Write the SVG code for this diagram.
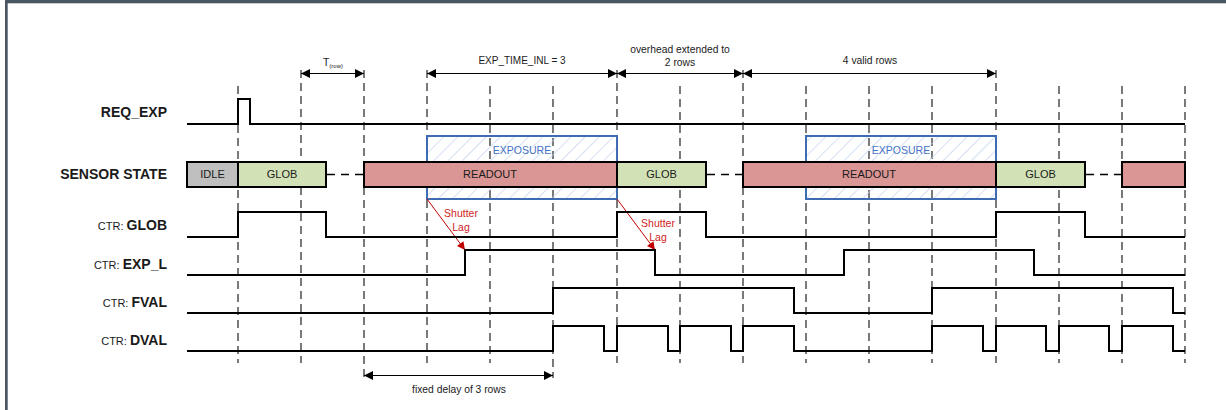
<svg xmlns="http://www.w3.org/2000/svg" width="1226" height="410" viewBox="0 0 1226 410">
<style>
text{font-family:"Liberation Sans",Arial,sans-serif;fill:#1a1a1a}
.lbl{font-size:14px;font-weight:bold;text-anchor:end}
.ctr{font-size:11px;font-weight:normal}
.bt{font-size:11px;text-anchor:middle}
.ann{font-size:10.3px;text-anchor:middle}
.exp{font-size:10.5px;text-anchor:middle;fill:#4472c4}
.lag{font-size:10.5px;text-anchor:middle;fill:#d01c1c}
.grid{stroke:#222;stroke-width:1.2;stroke-dasharray:8 5;fill:none}
.sig{stroke:#000;stroke-width:2;fill:none;stroke-linejoin:miter}
.bar{stroke:#000;stroke-width:2}
.expbox{stroke:#3d6cb3;stroke-width:2;fill:url(#hatch)}
.dim{stroke:#000;stroke-width:1;fill:none;marker-start:url(#ah);marker-end:url(#ah)}
.dash{stroke:#000;stroke-width:1.3;stroke-dasharray:8 6}
.lagarrow{stroke:#c00000;stroke-width:1;fill:none;marker-end:url(#ahr)}
</style>
<defs>
<pattern id="hatch" patternUnits="userSpaceOnUse" width="10" height="10" patternTransform="rotate(45)">
<line x1="0" y1="0" x2="0" y2="10" stroke="#c2d3eb" stroke-width="1.4"/>
</pattern>
<marker id="ah" viewBox="0 0 10 10" refX="10" refY="5" markerWidth="10" markerHeight="9" markerUnits="userSpaceOnUse" orient="auto-start-reverse">
<path d="M0,0 L10,5 L0,10 z" fill="#000"/>
</marker>
<marker id="ahr" viewBox="0 0 10 10" refX="10" refY="5" markerWidth="9" markerHeight="8" markerUnits="userSpaceOnUse" orient="auto">
<path d="M0,0 L10,5 L0,10 z" fill="#c00000"/>
</marker>
</defs>
<rect x="0" y="0" width="1226" height="410" fill="#fff"/>
<rect x="5" y="0" width="1221" height="3.3" fill="#4a5763"/>
<rect x="5" y="0" width="2.7" height="410" fill="#4a5763"/>

<g id="grid">
<line class="grid" x1="238" y1="86" x2="238" y2="363"/>
<line class="grid" x1="301" y1="70" x2="301" y2="363"/>
<line class="grid" x1="364" y1="70" x2="364" y2="378"/>
<line class="grid" x1="427" y1="70" x2="427" y2="363"/>
<line class="grid" x1="490" y1="86" x2="490" y2="363"/>
<line class="grid" x1="553" y1="86" x2="553" y2="378"/>
<line class="grid" x1="617" y1="70" x2="617" y2="363"/>
<line class="grid" x1="680" y1="86" x2="680" y2="363"/>
<line class="grid" x1="743" y1="70" x2="743" y2="363"/>
<line class="grid" x1="806" y1="86" x2="806" y2="363"/>
<line class="grid" x1="869" y1="86" x2="869" y2="363"/>
<line class="grid" x1="932" y1="86" x2="932" y2="363"/>
<line class="grid" x1="996" y1="70" x2="996" y2="363"/>
<line class="grid" x1="1059" y1="86" x2="1059" y2="363"/>
<line class="grid" x1="1122" y1="86" x2="1122" y2="363"/>
<line class="grid" x1="1185" y1="86" x2="1185" y2="363"/>
</g>

<g id="exposure1">
<rect class="expbox" x="427" y="136" width="190" height="63"/>
<text class="exp" x="522" y="154">EXPOSURE</text>
</g>
<g id="exposure2">
<rect class="expbox" x="806" y="136" width="190" height="63"/>
<text class="exp" x="901" y="154">EXPOSURE</text>
</g>

<g id="labels">
<text class="lbl" x="167" y="116.5">REQ_EXP</text>
<text class="lbl" x="167" y="179">SENSOR STATE</text>
<text class="lbl" x="167" y="230"><tspan class="ctr">CTR: </tspan>GLOB</text>
<text class="lbl" x="167" y="268.5"><tspan class="ctr">CTR: </tspan>EXP_L</text>
<text class="lbl" x="167" y="306.5"><tspan class="ctr">CTR: </tspan>FVAL</text>
<text class="lbl" x="167" y="344.5"><tspan class="ctr">CTR: </tspan>DVAL</text>
</g>

<g id="connectors">
<line class="dash" x1="327" y1="174.5" x2="363" y2="174.5"/>
<line class="dash" x1="707" y1="174.5" x2="742" y2="174.5"/>
<line class="dash" x1="1086" y1="174.5" x2="1121" y2="174.5"/>
<line class="dim" x1="301" y1="73.5" x2="364" y2="73.5"/>
<line class="dim" x1="427" y1="73.5" x2="617" y2="73.5"/>
<line class="dim" x1="617" y1="73.5" x2="743" y2="73.5"/>
<line class="dim" x1="743" y1="73.5" x2="996" y2="73.5"/>
<line class="dim" x1="364" y1="375.5" x2="553" y2="375.5"/>
<line class="lagarrow" x1="427" y1="199" x2="465" y2="250"/>
<line class="lagarrow" x1="617" y1="199" x2="655" y2="250"/>
</g>

<g id="annotations">
<text x="333" y="66" style="font-size:10.3px;text-anchor:middle">T<tspan style="font-size:6px" dy="2">(row)</tspan></text>
<text class="ann" x="522" y="64" style="font-size:10px">EXP_TIME_INL = 3</text>
<text class="ann" x="680" y="52.5">overhead extended to</text>
<text class="ann" x="680" y="65.5">2 rows</text>
<text class="ann" x="870" y="64">4 valid rows</text>
<text class="ann" x="459" y="393">fixed delay of 3 rows</text>
<text class="lag" x="461" y="217">Shutter</text>
<text class="lag" x="461" y="230.5">Lag</text>
<text class="lag" x="658" y="227">Shutter</text>
<text class="lag" x="658" y="240.5">Lag</text>
</g>

<g id="state-bar">
<g id="idle"><rect class="bar" x="187" y="162" width="51" height="25" fill="#bfbfbf"/><text class="bt" x="212.5" y="178">IDLE</text></g>
<g id="glob1"><rect class="bar" x="238" y="162" width="88" height="25" fill="#d3e2b6"/><text class="bt" x="282" y="178">GLOB</text></g>
<g id="readout1"><rect class="bar" x="364" y="162" width="253" height="25" fill="#d99694"/><text class="bt" x="490" y="178">READOUT</text></g>
<g id="glob2"><rect class="bar" x="617" y="162" width="89" height="25" fill="#d3e2b6"/><text class="bt" x="661.5" y="178">GLOB</text></g>
<g id="readout2"><rect class="bar" x="743" y="162" width="253" height="25" fill="#d99694"/><text class="bt" x="869" y="178">READOUT</text></g>
<g id="glob3"><rect class="bar" x="996" y="162" width="89" height="25" fill="#d3e2b6"/><text class="bt" x="1040.5" y="178">GLOB</text></g>
<g id="readout3"><rect class="bar" x="1122" y="162" width="63" height="25" fill="#d99694"/></g>
</g>

<g id="signals">
<polyline id="req_exp" class="sig" points="187,124 238,124 238,99 250,99 250,124 1185,124"/>
<polyline id="ctr_glob" class="sig" points="187,237 238,237 238,212 326,212 326,237 617,237 617,212 706,212 706,237 996,237 996,212 1085,212 1085,237 1185,237"/>
<polyline id="ctr_exp_l" class="sig" points="187,275 465,275 465,250 655,250 655,275 844,275 844,250 1034,250 1034,275 1185,275"/>
<polyline id="ctr_fval" class="sig" points="187,313 553,313 553,288 794,288 794,313 932,313 932,288 1173,288 1173,313 1185,313"/>
<polyline id="ctr_dval" class="sig" points="187,351 553,351 553,326 604,326 604,351 617,351 617,326 668,326 668,351 680,351 680,326 731,326 731,351 743,351 743,326 794,326 794,351 932,351 932,326 983,326 983,351 996,351 996,326 1046,326 1046,351 1059,351 1059,326 1109,326 1109,351 1122,351 1122,326 1173,326 1173,351 1185,351"/>
</g>
</svg>
